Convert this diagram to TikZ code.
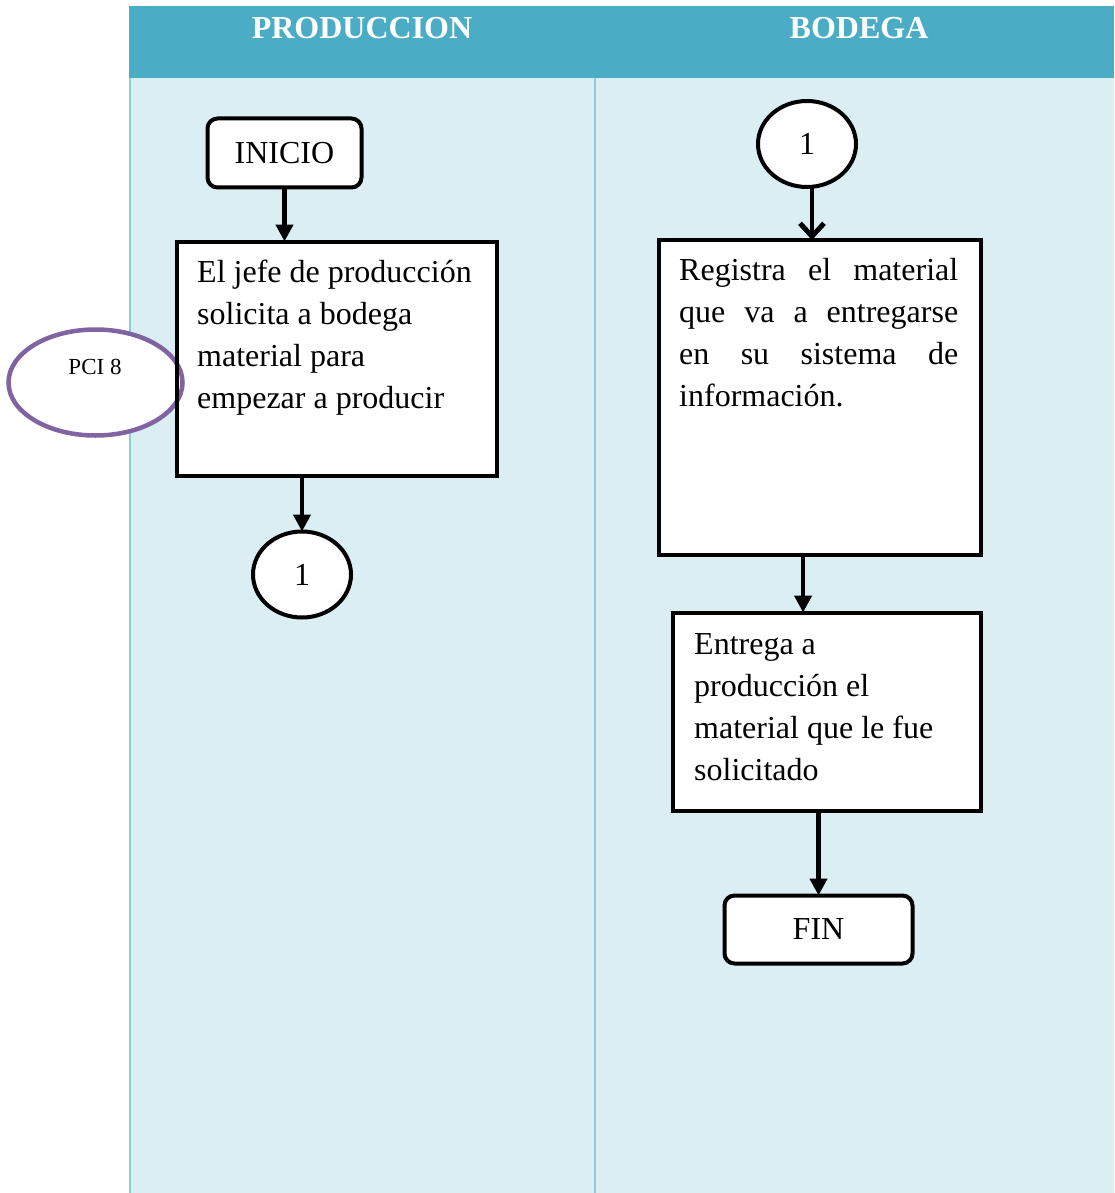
\documentclass[tikz,border=0pt]{standalone}
\usepackage{fontspec}
\setmainfont{Liberation Serif}
\usetikzlibrary{arrows.meta,shapes.geometric,calc}

\definecolor{hdrblue}{HTML}{4BACC6}
\definecolor{lanefill}{HTML}{DAEEF3}
\definecolor{laneline}{HTML}{8FCBDB}
\definecolor{pcipurple}{HTML}{8064A2}

\tikzset{
  bodytext/.style={font=\fontsize{32}{42}\selectfont, inner sep=0pt, align=left},
  hdrtext/.style={font=\fontsize{32}{38}\selectfont\bfseries, text=white, inner sep=0pt},
  stepbox/.style={draw=black, fill=white, line width=4pt, rectangle, inner sep=0pt, outer sep=0pt},
  termbox/.style={stepbox, rounded corners=10pt, font=\fontsize{32}{38}\selectfont},
  joint/.style={draw=black, fill=white, line width=4pt, ellipse, inner sep=0pt, outer sep=0pt,
                minimum width=98pt, minimum height=86pt},
  flow/.style={line width=4.5pt, -{Triangle[width=17pt,length=17pt]}},
  flowbarb/.style={line width=4.5pt, -{Straight Barb[width=24pt,length=13pt,line width=5pt]}},
}

\begin{document}
\begin{tikzpicture}[x=1pt, y=-1pt]
\useasboundingbox (0,0) rectangle (1114,1193);

% swimlane header and bodies
\fill[hdrblue] (129,6) rectangle (1114,78);
\fill[lanefill] (130,78) rectangle (1114,1193);
\draw[laneline, line width=2pt] (130,78) -- (130,1193);
\draw[laneline, line width=2pt] (595,78) -- (595,1193);

\node[hdrtext] (hprod) at (362,28) {PRODUCCION};
\node[hdrtext] (hbod) at (859,28) {BODEGA};

% PRODUCCION lane
\node[termbox, minimum width=154pt, minimum height=69pt] (inicio) at (284.5,153) {INICIO};
\node[stepbox, minimum width=320pt, minimum height=234pt] (box1) at (336.5,358.5) {};
\node[draw=pcipurple, fill=white, line width=4.5pt, ellipse, inner sep=0pt,
      minimum width=174pt, minimum height=106pt] (pci) at (95.5,382.5) {};
\draw[line width=4pt] (box1.north west) rectangle (box1.south east);
\node[font=\fontsize{23}{26}\selectfont, inner sep=0pt] (pcitext) at (95,367) {PCI 8};
% multi-line nodes are anchored at the baseline of their last line
\node[bodytext, anchor=base west] (t1) at (197,408)
  {El jefe de producción\\solicita a bodega\\material para\\empezar a producir};
\node[joint, font=\fontsize{32}{38}\selectfont] (con1L) at (302,574.5) {1};

\draw[flow] (inicio) -- (inicio |- box1.north);
\draw[flow] (con1L |- box1.south) -- (con1L.north);

% BODEGA lane
\node[joint, font=\fontsize{32}{38}\selectfont] (con1R) at (807,144) {1};
\node[stepbox, minimum width=322pt, minimum height=315pt] (box2) at (819.5,397.5) {};
\node[bodytext, anchor=base west] (t2) at (679,406)
  {\makebox[279pt][s]{Registra el material}\\
   \makebox[279pt][s]{que va a entregarse}\\
   \makebox[279pt][s]{en su sistema de}\\
   información.};
\node[stepbox, minimum width=308pt, minimum height=198pt] (box3) at (826.5,711.5) {};
\node[bodytext, anchor=base west] (t3) at (694,780)
  {Entrega a\\producción el\\material que le fue\\solicitado};
\node[termbox, minimum width=188pt, minimum height=68pt] (fin) at (818.5,929.5) {FIN};

\draw[flowbarb] ($(con1R.south)+(5,0)$) coordinate (c2top) -- (c2top |- box2.north);
\coordinate (b2out) at ($(box2.south west)!0.449!(box2.south east)$);
\draw[flow] (b2out) -- (b2out |- box3.north);
\draw[flow] (fin.north |- box3.south) -- (fin.north);
\end{tikzpicture}
\end{document}
